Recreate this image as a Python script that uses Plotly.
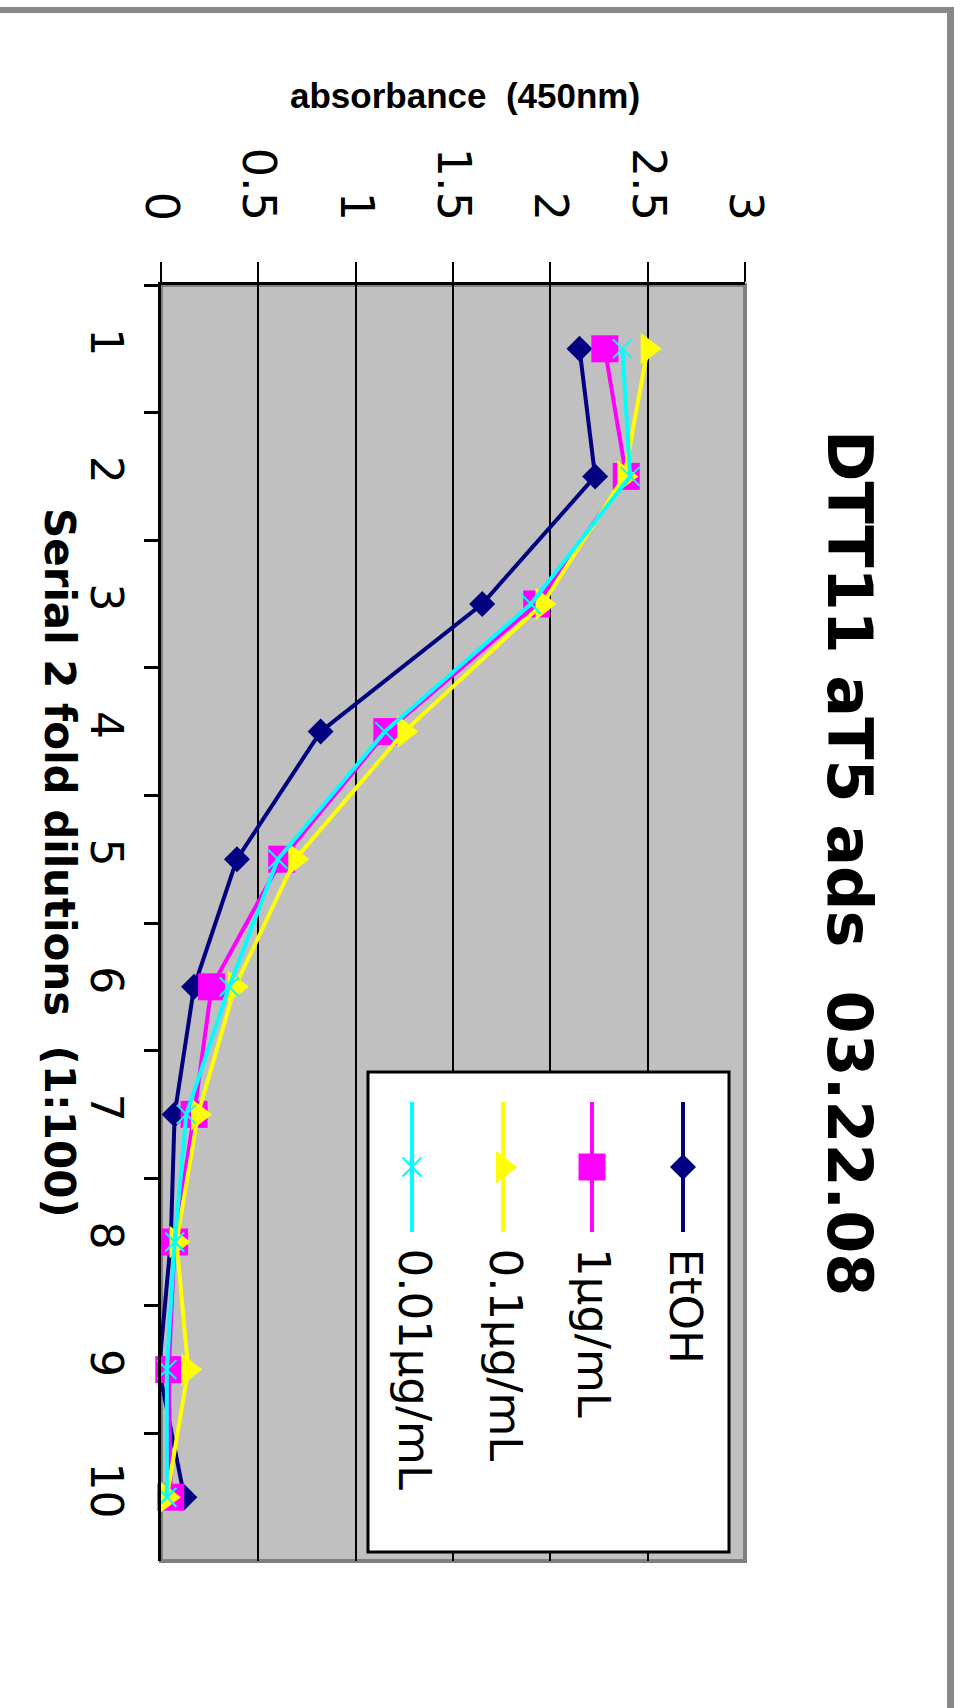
import plotly.graph_objects as go

W, H = 961, 1708

# ---- data ----
dilutions = ["1", "2", "3", "4", "5", "6", "7", "8", "9", "10"]
absorb_tickvals = [0, 0.5, 1, 1.5, 2, 2.5, 3]
absorb_ticktext = ["0", "0.5", "1", "1.5", "2", "2.5", "3"]

series_names = ["EtOH", "1µg/mL", "0.1µg/mL", "0.01µg/mL"]
etoh = [2.15, 2.23, 1.65, 0.82, 0.39, 0.17, 0.07, 0.05, -0.01, 0.12]
ug_1 = [2.28, 2.39, 1.93, 1.16, 0.62, 0.26, 0.17, 0.07, 0.04, 0.05]
ug_01 = [2.50, 2.38, 1.96, 1.25, 0.69, 0.38, 0.19, 0.08, 0.14, 0.03]
ug_001 = [2.37, 2.41, 1.90, 1.15, 0.60, 0.35, 0.13, 0.07, 0.03, 0.03]
series_values = [etoh, ug_1, ug_01, ug_001]

# ---- styling ----
colors = ["#000080", "#FF00FF", "#FFFF00", "#00FFFF"]
symbols = ["diamond", "square", "triangle-right", "x-thin"]
msizes = [20, 27, 28, 19]
LINE_W = 4

# plot area in page pixels
PX_L, PX_R, PX_T, PX_B = 161, 745, 285, 1561

fig = go.Figure()


def marker_style(symbol, size, color):
    m = dict(symbol=symbol, size=size, color=color, opacity=1, line=dict(width=0))
    if symbol == "x-thin":
        m["line"] = dict(width=2, color=color)
    return m


for name, vals, c, s, ms in zip(series_names, series_values, colors, symbols, msizes):
    fig.add_trace(go.Scatter(
        x=vals, y=dilutions, name=name, mode="lines+markers",
        line=dict(color=c, width=LINE_W), marker=marker_style(s, ms, c),
        cliponaxis=False, showlegend=False, xaxis="x", yaxis="y",
    ))

# legend samples (drawn on a page-pixel overlay axis)
leg_x = [683, 592, 503, 412]
leg_y_line = [1102, 1167, 1232]
for name, c, s, ms, lx in zip(series_names, colors, symbols, msizes, leg_x):
    fig.add_trace(go.Scatter(
        x=[lx, lx, lx], y=leg_y_line, mode="lines+markers",
        line=dict(color=c, width=LINE_W), marker=marker_style(s, [0, ms, 0], c),
        showlegend=False, hoverinfo="skip", xaxis="x2", yaxis="y2",
        cliponaxis=False,
    ))

shapes = [
    # plot-area fill and grey frame
    dict(type="rect", xref="x domain", yref="y domain", x0=0, x1=1, y0=0, y1=1,
         fillcolor="#C0C0C0", line=dict(color="#808080", width=4), layer="below"),
    # legend box
    dict(type="rect", xref="x2", yref="y2", x0=368, x1=729, y0=1072, y1=1552,
         fillcolor="white", line=dict(color="black", width=3), layer="between"),
    # page frame
    dict(type="rect", xref="x2", yref="y2", x0=0, x1=954, y0=7, y1=13,
         fillcolor="#888888", line=dict(width=0), layer="above"),
    dict(type="rect", xref="x2", yref="y2", x0=947, x1=954, y0=7, y1=H,
         fillcolor="#888888", line=dict(width=0), layer="above"),
]

annotations = [
    dict(text="<b>DTT11 aT5 ads  03.22.08</b>", x=850, y=863, xref="x2", yref="y2",
         textangle=90, showarrow=False, xanchor="center", yanchor="middle",
         font=dict(family="DejaVu Sans", size=62, color="black")),
    dict(text="<b>Serial 2 fold dilutions  (1:100)</b>", x=60, y=863, xref="x2", yref="y2",
         textangle=90, showarrow=False, xanchor="center", yanchor="middle",
         font=dict(family="DejaVu Sans", size=42, color="black")),
    dict(text="<b>absorbance  (450nm)</b>", x=465, y=95, xref="x2", yref="y2",
         showarrow=False, xanchor="center", yanchor="middle",
         font=dict(family="Liberation Sans", size=35, color="black")),
]
for name, lx in zip(series_names, leg_x):
    annotations.append(dict(
        text=name, x=lx + 2, y=1246, xref="x2", yref="y2", textangle=90,
        showarrow=False, xanchor="center", yanchor="top",
        font=dict(family="DejaVu Sans", size=45, color="black")))

fig.update_layout(
    width=W, height=H, autosize=False,
    margin=dict(l=0, r=0, t=0, b=0, pad=0, autoexpand=False),
    paper_bgcolor="white", plot_bgcolor="rgba(0,0,0,0)",
    showlegend=False,
    xaxis=dict(
        domain=[PX_L / W, PX_R / W], range=[0, 3], side="top",
        tickvals=absorb_tickvals, ticktext=absorb_ticktext, tickangle=90,
        tickfont=dict(family="DejaVu Sans", size=46, color="black"),
        ticklabelstandoff=25,
        showgrid=True, gridcolor="black", gridwidth=2,
        showline=True, linecolor="black", linewidth=3,
        ticks="outside", ticklen=20, tickwidth=2, tickcolor="black",
        zeroline=False, fixedrange=True, anchor="y", automargin=False,
    ),
    yaxis=dict(
        domain=[1 - PX_B / H, 1 - PX_T / H], type="category",
        categoryorder="array", categoryarray=dilutions, range=[9.5, -0.5],
        tickson="boundaries", ticks="outside", ticklen=14, tickwidth=3,
        tickcolor="black", tickangle=90,
        tickfont=dict(family="DejaVu Sans", size=44, color="black"),
        ticklabelstandoff=14,
        showline=True, linecolor="black", linewidth=3, showgrid=False,
        zeroline=False, fixedrange=True, anchor="x", automargin=False,
    ),
    xaxis2=dict(domain=[0, 1], range=[0, W], visible=False, anchor="y2",
                fixedrange=True, automargin=False),
    yaxis2=dict(domain=[0, 1], range=[H, 0], visible=False, anchor="x2",
                fixedrange=True, automargin=False),
    shapes=shapes,
    annotations=annotations,
)

fig.write_html("out.html")
